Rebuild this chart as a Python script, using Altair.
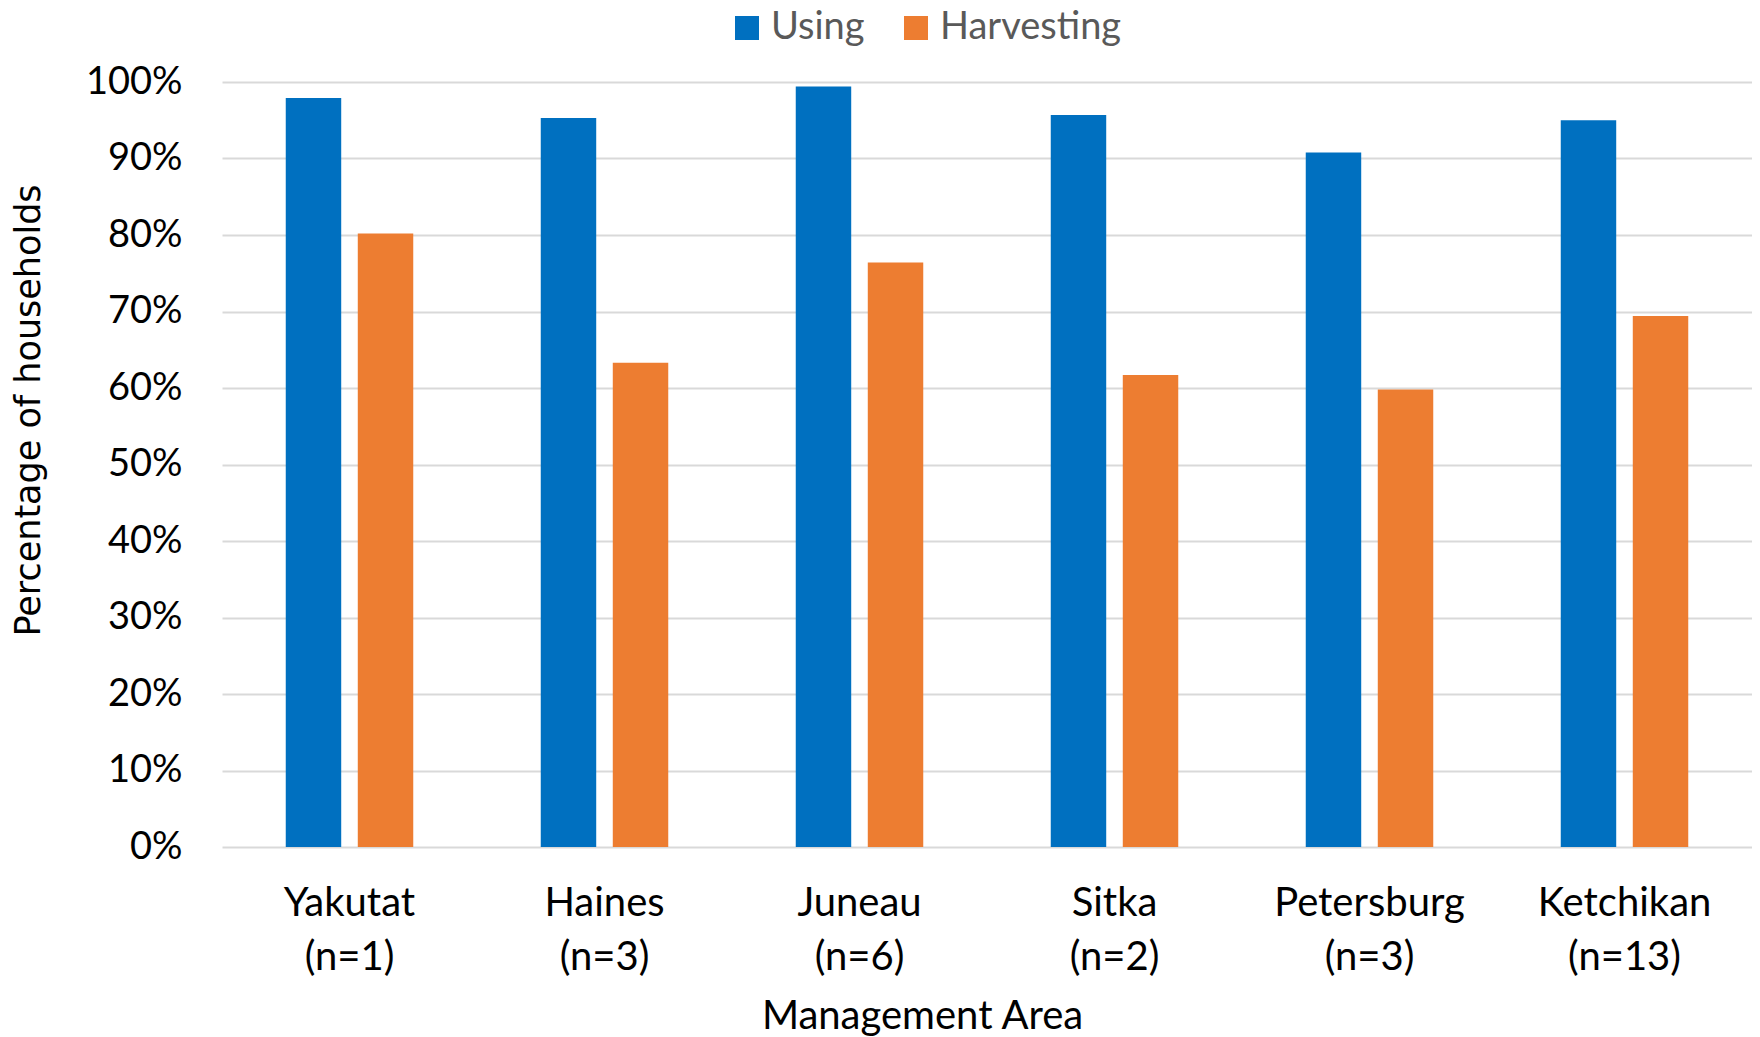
import altair as alt
import pandas as pd

areas = ["Yakutat", "Haines", "Juneau", "Sitka", "Petersburg", "Ketchikan"]
n_values = [1, 3, 6, 2, 3, 13]
series = ["Using", "Harvesting"]
using = [0.979, 0.953, 0.994, 0.957, 0.908, 0.950]
harvesting = [0.802, 0.633, 0.764, 0.617, 0.598, 0.694]
colors = ["#0070C0", "#ED7D31"]

labels = [f"{a}\n(n={n})" for a, n in zip(areas, n_values)]
rows = []
for lab, u, h in zip(labels, using, harvesting):
    rows.append({"area": lab, "series": "Using", "value": u})
    rows.append({"area": lab, "series": "Harvesting", "value": h})
df = pd.DataFrame(rows)

FONT = "Lato"

chart = alt.Chart(df).mark_bar().encode(
    x=alt.X(
        "area:N",
        sort=labels,
        scale=alt.Scale(paddingInner=0.5, paddingOuter=0.25),
        axis=alt.Axis(
            title="Management Area",
            labelAngle=0,
            labelExpr="split(datum.label, '\\n')",
            labelFontSize=40,
            labelFont=FONT,
            labelColor="#000000",
            labelLineHeight=54,
            labelPadding=36,
            labelBaseline="top",
            labelLimit=400,
            ticks=False,
            domain=False,
            grid=False,
            titleFont=FONT,
            titleFontSize=40,
            titleFontWeight="normal",
            titleColor="#000000",
            titleX=700,
            titleY=181,
            titleBaseline="alphabetic",
            titleAlign="center",
        ),
    ),
    xOffset=alt.XOffset(
        "series:N", sort=series, scale=alt.Scale(paddingInner=0.23, paddingOuter=0)
    ),
    y=alt.Y(
        "value:Q",
        scale=alt.Scale(domain=[0, 1], nice=False),
        axis=alt.Axis(
            title="Percentage of households",
            format=".0%",
            values=[i / 10 for i in range(11)],
            labelFontSize=38,
            labelFont=FONT,
            labelColor="#000000",
            labelPadding=40,
            ticks=False,
            domain=False,
            grid=True,
            gridColor="#D9D9D9",
            gridWidth=2,
            titleFont="DejaVu Sans",
            titleFontSize=35,
            titleFontWeight="normal",
            titleColor="#000000",
            titleAngle=270,
            titleX=-194,
            titleY=328,
            titleBaseline="middle",
            titleAlign="center",
        ),
    ),
    color=alt.Color(
        "series:N",
        sort=series,
        scale=alt.Scale(domain=series, range=colors),
        legend=alt.Legend(
            title=None,
            orient="none",
            direction="horizontal",
            legendX=506,
            legendY=-73,
            symbolType="square",
            symbolSize=576,
            symbolStrokeWidth=0,
            labelFont=FONT,
            labelFontSize=38,
            labelColor="#595959",
            labelOffset=5,
            labelLimit=400,
            columnPadding=32,
        ),
    ),
).properties(
    width=1530,
    height=765,
    autosize=alt.AutoSizeParams(type="none"),
    padding={"left": 214, "top": 74, "right": 0, "bottom": 190},
).configure_view(stroke=None)

chart.save("out.html", embed_options={"renderer": "svg", "actions": False})
